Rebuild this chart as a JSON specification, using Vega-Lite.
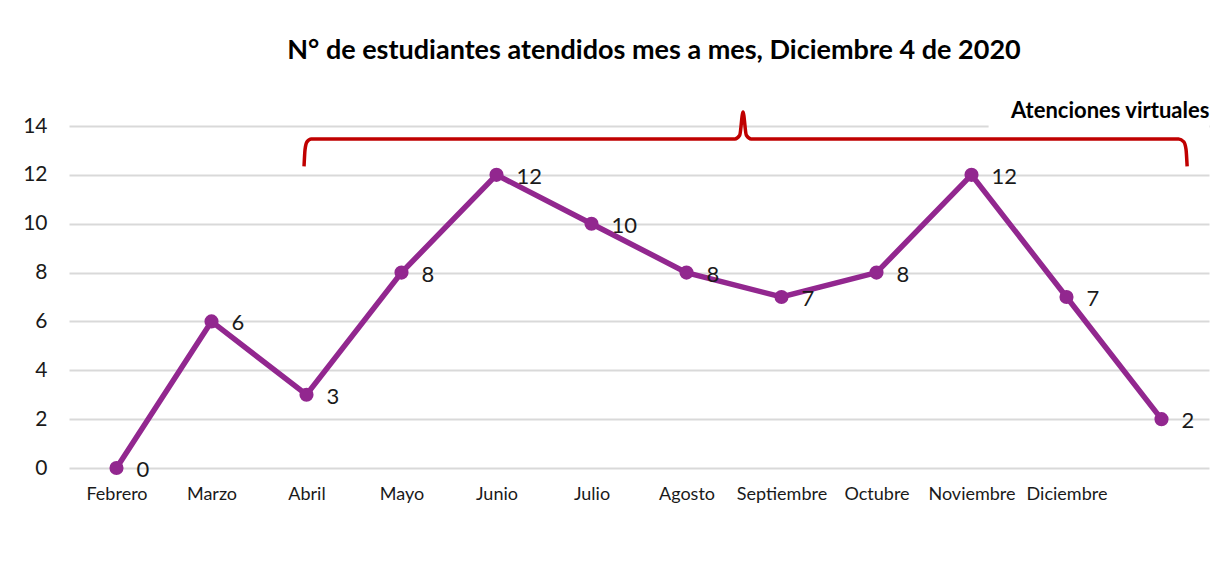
{
  "$schema": "https://vega.github.io/schema/vega-lite/v6.json",
  "autosize": "none",
  "width": 1140,
  "height": 342,
  "padding": {"left": 69, "top": 126, "right": 22, "bottom": 95},
  "background": "white",
  "config": {"view": {"stroke": null}, "font": "Lato"},
  "title": {
    "text": "N° de estudiantes atendidos mes a mes, Diciembre 4 de 2020",
    "font": "Lato",
    "fontSize": 27,
    "fontWeight": "bold",
    "color": "#000000",
    "anchor": "middle",
    "dx": 15,
    "offset": 32
  },
  "datasets": {
    "meses": [
      {"i": 0, "mes": "Febrero", "n": 0},
      {"i": 1, "mes": "Marzo", "n": 6},
      {"i": 2, "mes": "Abril", "n": 3},
      {"i": 3, "mes": "Mayo", "n": 8},
      {"i": 4, "mes": "Junio", "n": 12},
      {"i": 5, "mes": "Julio", "n": 10},
      {"i": 6, "mes": "Agosto", "n": 8},
      {"i": 7, "mes": "Septiembre", "n": 7},
      {"i": 8, "mes": "Octubre", "n": 8},
      {"i": 9, "mes": "Noviembre", "n": 12},
      {"i": 10, "mes": "Diciembre", "n": 7},
      {"i": 11, "mes": "", "n": 2}
    ],
    "llave": [
      {"o": 0, "x": 1.974, "y": 12.35},
      {"o": 1, "x": 1.985, "y": 13.05},
      {"o": 2, "x": 2.005, "y": 13.35},
      {"o": 3, "x": 2.05, "y": 13.47},
      {"o": 4, "x": 6.51, "y": 13.47},
      {"o": 5, "x": 6.56, "y": 13.62},
      {"o": 6, "x": 6.595, "y": 14.57},
      {"o": 7, "x": 6.63, "y": 13.62},
      {"o": 8, "x": 6.68, "y": 13.47},
      {"o": 9, "x": 11.18, "y": 13.47},
      {"o": 10, "x": 11.235, "y": 13.35},
      {"o": 11, "x": 11.258, "y": 13.05},
      {"o": 12, "x": 11.27, "y": 12.35}
    ],
    "etiqueta": [{"x": 10.46, "y": 14.62, "x0": 9.18, "x1": 11.5, "y0": 13.75, "y1": 15.2, "t": "Atenciones virtuales"}]
  },
  "layer": [
    {
      "data": {"name": "meses"},
      "mark": {"type": "line", "color": "#92278F", "strokeWidth": 5.5},
      "encoding": {
        "x": {
          "field": "i",
          "type": "quantitative",
          "scale": {"domain": [-0.5, 11.5], "nice": false, "zero": false},
          "axis": {
            "title": null,
            "values": [0, 1, 2, 3, 4, 5, 6, 7, 8, 9, 10],
            "labelExpr": "['Febrero','Marzo','Abril','Mayo','Junio','Julio','Agosto','Septiembre','Octubre','Noviembre','Diciembre'][datum.value]",
            "grid": false,
            "ticks": false,
            "domain": false,
            "labelFont": "Lato",
            "labelFontSize": 18,
            "labelColor": "#1a1a1a",
            "labelPadding": 17,
            "labelOverlap": false,
            "labelFlush": false
          }
        },
        "y": {
          "field": "n",
          "type": "quantitative",
          "scale": {"domain": [0, 14], "nice": false},
          "axis": {
            "title": null,
            "values": [0, 2, 4, 6, 8, 10, 12, 14],
            "gridColor": "#d9d9d9",
            "gridWidth": 2,
            "ticks": false,
            "domain": false,
            "labelFont": "Lato",
            "labelFontSize": 21,
            "labelColor": "#1a1a1a",
            "labelPadding": 22
          }
        }
      }
    },
    {
      "data": {"name": "meses"},
      "mark": {"type": "point", "filled": true, "opacity": 1, "color": "#92278F", "size": 200},
      "encoding": {
        "x": {"field": "i", "type": "quantitative"},
        "y": {"field": "n", "type": "quantitative"}
      }
    },
    {
      "data": {"name": "meses"},
      "mark": {"type": "text", "align": "left", "baseline": "middle", "dx": 20, "dy": 2, "fontSize": 22, "font": "Lato", "color": "#1a1a1a"},
      "encoding": {
        "x": {"field": "i", "type": "quantitative"},
        "y": {"field": "n", "type": "quantitative"},
        "text": {"field": "n", "type": "quantitative"}
      }
    },
    {
      "data": {"name": "etiqueta"},
      "mark": {"type": "rect", "color": "white"},
      "encoding": {
        "x": {"field": "x0", "type": "quantitative"},
        "x2": {"field": "x1"},
        "y": {"field": "y0", "type": "quantitative"},
        "y2": {"field": "y1"}
      }
    },
    {
      "data": {"name": "llave"},
      "mark": {"type": "line", "color": "#C00000", "strokeWidth": 3.5, "interpolate": "monotone", "strokeJoin": "round"},
      "encoding": {
        "x": {"field": "x", "type": "quantitative"},
        "y": {"field": "y", "type": "quantitative"},
        "order": {"field": "o", "type": "quantitative"}
      }
    },
    {
      "data": {"name": "etiqueta"},
      "mark": {"type": "text", "align": "center", "baseline": "middle", "fontSize": 22, "fontWeight": "bold", "font": "Lato", "color": "#000000"},
      "encoding": {
        "x": {"field": "x", "type": "quantitative"},
        "y": {"field": "y", "type": "quantitative"},
        "text": {"field": "t", "type": "nominal"}
      }
    }
  ]
}
